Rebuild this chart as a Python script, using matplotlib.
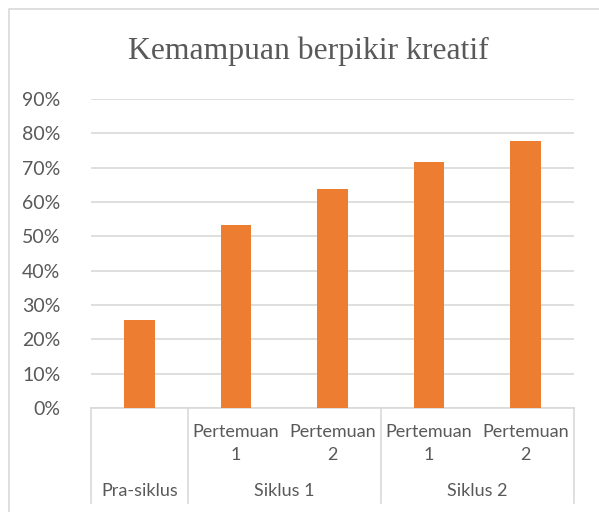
import matplotlib
matplotlib.use("Agg")
import matplotlib.pyplot as plt
import matplotlib.transforms as mtransforms
from matplotlib.lines import Line2D
from matplotlib.ticker import FuncFormatter

# Data
inner_labels = ["", "Pertemuan\n1", "Pertemuan\n2", "Pertemuan\n1", "Pertemuan\n2"]
group_labels = ["Pra-siklus", "Siklus 1", "Siklus 2"]
group_sizes = [1, 2, 2]
values = [0.255, 0.533, 0.639, 0.717, 0.778]
title = "Kemampuan berpikir kreatif"

TEXT = "#595959"
GRID = "#D9D9D9"
BAR = "#ED7D31"
FONT = ["Lato", "DejaVu Sans"]

W, H = 599, 512
fig = plt.figure(figsize=(W / 100, H / 100), dpi=100)
ax = fig.add_axes([91 / W, 1 - 408 / H, (574 - 91) / W, (408 - 99) / H])

x = list(range(len(values)))
ax.bar(x, values, width=0.315, color=BAR, zorder=3)

ax.set_xlim(-0.5, len(values) - 0.5)
ax.set_ylim(0, 0.9)
ax.set_yticks([i / 10 for i in range(10)])
ax.yaxis.set_major_formatter(FuncFormatter(lambda v, p: f"{round(v * 100)}%"))
ax.tick_params(axis="y", length=0, pad=22, labelsize=14, labelcolor=TEXT)
for lab in ax.get_yticklabels():
    lab.set_fontfamily(FONT)
ax.grid(axis="y", color=GRID, linewidth=1.2, zorder=0)
ax.set_xticks([])
for s in ["left", "right", "top"]:
    ax.spines[s].set_visible(False)
ax.spines["bottom"].set_color(GRID)
ax.spines["bottom"].set_linewidth(1.2)

# multi-level category axis
trans = mtransforms.blended_transform_factory(ax.transData, ax.transAxes)
px = 1 / 309.0
bottom_y = -(503 - 408) * px
for i, lab in enumerate(inner_labels):
    if lab:
        ax.text(i, -(424 - 408) * px, lab, transform=trans, ha="center", va="top",
                fontsize=13, color=TEXT, family=FONT, linespacing=1.5)
start = 0
seps = [-0.5]
for g, n in zip(group_labels, group_sizes):
    center = start + (n - 1) / 2
    ax.text(center, -(491 - 408) * px, g, transform=trans, ha="center", va="center",
            fontsize=13, color=TEXT, family=FONT)
    start += n
    seps.append(start - 0.5)
for s in seps:
    ax.add_line(Line2D([s, s], [0, bottom_y], transform=trans, color=GRID,
                       linewidth=1.2, clip_on=False))

fig.text(308 / W, 1 - 58.5 / H, title, ha="center", va="baseline", fontsize=22.8,
         color=TEXT, family=["Liberation Serif", "DejaVu Serif"])

# chart area border (left and top visible)
fig.add_artist(Line2D([8.5 / W, 8.5 / W, 1.0], [0, 1 - 8.5 / H, 1 - 8.5 / H],
                      transform=fig.transFigure, color=GRID, linewidth=1.2))

fig.savefig("out.png", dpi=100)
